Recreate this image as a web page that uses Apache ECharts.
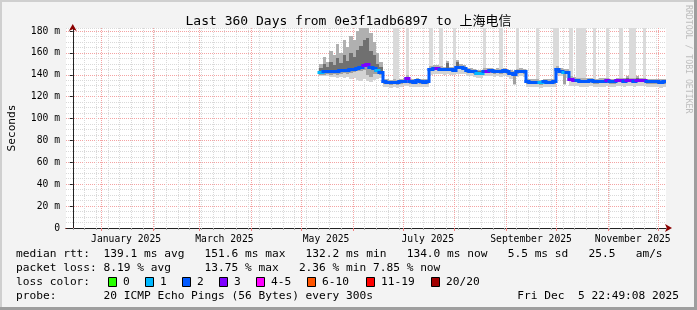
<!DOCTYPE html>
<html><head><meta charset="utf-8">
<script src="https://cdn.jsdelivr.net/npm/echarts@6/dist/echarts.min.js"></script>
<style>html,body{margin:0;padding:0;background:#f3f3f3}#c{width:697px;height:310px}</style>
</head><body><div id="c"></div>
<script>
// x values: days since Sun 2024-12-15 00:00; right edge = Fri 2025-12-05 22:49
const xMin = -4.05, xMax = 355.95;
const yMax = 182.74;
const monthStarts = [17, 48, 76, 107, 137, 168, 198, 229, 260, 290, 321, 351];
const labelDays = [32, 91, 152, 213, 275, 336];
const labelNames = ['January 2025', 'March 2025', 'May 2025', 'July 2025', 'September 2025', 'November 2025'];
const yTicks = [0, 20, 40, 60, 80, 100, 120, 140, 160, 180];
const firstDay = 149, dayStep = 2;

// median rtt (ms), one value per 2 days
const median = [
  142.5,143,143.5,143,143.5,143,144,144.5,144,145,145.5,146,147,149,150,147,146,144,142.5,
  134,133.5,133,133.5,133,134,134.5,137,134,133.5,135,134,133.5,134,
  145.5,146,146.5,145.5,145,145.5,145,144.5,147,147,146,144,143.5,143,142,142,143.5,143.5,144,143,143.5,143,144,143,141.5,141,143,143.5,143,
  134,133.5,133.5,133.5,133,134,133.5,133.5,134,
  145,143.5,142.5,142.5,
  136,135.5,135,134.5,134.5,134.5,135,134,134,134.5,134.5,135,134,134,135,135,134.5,135,135,134.5,135,135,135,134,134,134,134,133.5,134
];
// lost pings out of 20
const loss = [
  1,2,2,2,2,2,2,2,2,2, 2,2,2,3,3,2,2,1,2,2, 2,2,2,2,2,2,3,2,2,2, 2,2,2,2,2,3,2,2,2,2,
  2,2,2,2,2,2,2,1,1,2, 3,2,2,2,2,2,2,2,2,2, 2,2,2,2,2,2,1,2,2,2, 2,2,2,1,2,3,3,2,2,2,
  2,2,2,2,2,2,3,2,2,3, 3,2,3,3,2,3,3,3,2,2, 2,2,2,2
];
// smoke extents (ms)
const smokeLo = [
  139,139,139,138,138,137,138,137,138,136,137,135,134,136,134,133,135,136,137,
  129,128.5,128,128.5,128,129,129.5,130,129,128.5,129,129,128.5,129,
  140,141,141,140.5,140,141,140,139.5,141,141,141,139,138.5,138,137,137,138.5,138.5,139,138,138.5,138,139,138,136.5,131,138,138.5,138,
  129,128.5,128.5,128.5,128,129,128.5,128.5,129,
  140,138.5,131,137.5,
  130,130,129.5,129,129,129,129.5,128.5,128.5,129,129,129.5,128.5,128.5,129.5,129.5,129,129.5,129.5,129,129.5,129.5,129.5,128.5,128.5,128.5,128.5,128,128.5
];
const smokeLoIn = [
  139.5,140,140.5,140,140.5,140,141,141.5,141,142,142.5,143,143,144,140,138,141,141,139.5,
  132,131.5,131,131.5,131,132,132.5,135,132,131.5,133,132,131.5,132,
  143.5,144,144.5,143.5,143,143.5,143,142.5,145,145,144,142,141.5,141,140,140,141.5,141.5,142,141,141.5,141,142,141,139.5,132,141,141.5,141,
  132,131.5,131.5,131.5,131,132,131.5,131.5,132,
  143,141.5,132,140.5,
  134,133.5,133,132.5,132.5,132.5,133,132,132,132.5,132.5,133,132,132,133,133,132.5,133,133,132.5,133,133,133,132,132,132,132,131.5,132
];
const smokeHiIn = [
  146,150,147,152,149,155,151,158,153,160,156,163,166,172,174,162,158,150,147,
  135,134.5,134,134.5,134,135,135.5,138,135,134.5,136,135,134.5,135,
  146.5,147,147.5,146.5,146,151,146,145.5,152,148,147,145,144.5,144,143,143,144.5,144.5,145,144,144.5,144,145,144,142.5,142,144,144.5,144,
  135,134.5,134.5,134.5,134,135,134.5,134.5,135,
  146,144.5,143.5,143.5,
  137,136.5,136,135.5,135.5,135.5,136,135,135,135.5,135.5,136,135,135,136,136,135.5,137,136,135.5,137,136,136,135,135,135,135,134.5,135
];
const smokeHi = [
  150,156,152,162,158,168,160,172,165,175,172,180,183,186,186,178,170,160,152,
  136.5,136,135.5,136,135.5,136.5,137,140,136.5,136,137.5,136.5,136,136.5,
  148,148.5,149,148,147.5,152.5,147.5,147,153.5,149.5,148.5,146.5,146,145.5,144.5,144.5,146,146,146.5,145.5,146,145.5,146.5,145.5,144,143.5,145.5,146,145.5,
  136.5,136,136,136,135.5,136.5,136,136,136.5,
  148,146,145,145,
  138.5,138,137.5,137,137,137,137.5,136.5,136.5,137,137,137.5,136.5,136.5,137.5,137.5,137,138.5,137.5,137,138.5,137.5,137.5,136.5,136.5,136.5,136.5,136,136.5
];
// days where the slowest pings went above the top of the chart
const outlierDays = [193,195,201,215,221,229,247,257,267,279,289,291,299,303,305,307,313,321,329,335,337,343];
const outlierTop = 200;

const lossLabels = ['0', '1', '2', '3', '4-5', '6-10', '11-19', '20/20'];
const lossColors = ['#26ff00', '#00b8ff', '#0059ff', '#7e00ff', '#ff00ff', '#ff5500', '#ff0000', '#a10000'];

const statLines = [
  'median rtt:  139.1 ms avg   151.6 ms max   132.2 ms min   134.0 ms now   5.5 ms sd   25.5   am/s',
  'packet loss: 8.19 % avg     13.75 % max   2.36 % min 7.85 % now'
];
const probeText = 'probe:       20 ICMP Echo Pings (56 Bytes) every 300s';
const dateText = 'Fri Dec  5 22:49:08 2025';
const titleText = 'Last 360 Days from 0e3f1adb6897 to 上海电信';

[smokeLo, smokeLoIn, smokeHiIn, smokeHi, loss].forEach((a, k) => {
  if (a.length !== median.length) throw new Error('array ' + k + ' length ' + a.length + ' != ' + median.length);
});

const MONO = "'DejaVu Sans Mono', 'Noto Sans CJK SC', monospace";
const ARROW = '#8b0000';
const days = median.map((_, i) => firstDay + i * dayStep);
const weekDays = [];
for (let d = 0; d <= xMax; d += 7) weekDays.push(d);

function lossClass(n) { if (n <= 3) return n; if (n <= 5) return 4; if (n <= 10) return 5; if (n <= 19) return 6; return 7; }

const peak = days.map((d, i) => outlierDays.indexOf(d) >= 0 ? outlierTop : smokeHi[i]);
const bandColors = [null, '#d3d3d3', '#a0a0a0', '#707070', '#b0b0b0', '#dadada'];
const smokeData = days.map((d, i) => [d, smokeLo[i], smokeLoIn[i], median[i], smokeHiIn[i], smokeHi[i], peak[i]]);
const medianData = days.map((d, i) => [d, median[i], i + 1 < median.length ? median[i + 1] : median[i], lossClass(loss[i])]);

function colEdges(api, d) {
  return [Math.round(api.coord([d - dayStep / 2, 0])[0]), Math.round(api.coord([d + dayStep / 2, 0])[0])];
}
function renderSmoke(params, api) {
  const d = api.value(0);
  const e = colEdges(api, d);
  const children = [];
  for (let k = 2; k <= 6; k++) {
    const lo = Math.min(api.value(k - 1), yMax), hi = Math.min(api.value(k), yMax);
    if (hi <= lo) continue;
    const yt = Math.round(api.coord([d, hi])[1]), yb = Math.round(api.coord([d, lo])[1]);
    if (yb <= yt) continue;
    children.push({ type: 'rect', shape: { x: e[0], y: yt, width: e[1] - e[0], height: yb - yt },
      style: { fill: bandColors[k - 1] } });
  }
  return { type: 'group', children: children };
}
function renderMedian(params, api) {
  const d = api.value(0);
  const e = colEdges(api, d);
  const y0 = Math.round(api.coord([d, api.value(1)])[1]) + 0.5;
  const y1 = Math.round(api.coord([d, api.value(2)])[1]) + 0.5;
  return { type: 'polyline', shape: { points: [[e[0], y0], [e[1], y0], [e[1], y1]] },
    style: { stroke: lossColors[api.value(3)], lineWidth: 3, fill: null, lineJoin: 'miter', lineCap: 'square' } };
}

const yLineColors = ['#f4a3a3', '#d9d9d9', '#d9d9d9', '#d9d9d9'];

const graphic = [
  { type: 'rect', shape: { x: 0, y: 0, width: 697, height: 2 }, style: { fill: '#cfcfcf' }, silent: true },
  { type: 'rect', shape: { x: 0, y: 0, width: 2, height: 310 }, style: { fill: '#cfcfcf' }, silent: true },
  { type: 'rect', shape: { x: 694, y: 0, width: 3, height: 310 }, style: { fill: '#9e9e9e' }, silent: true },
  { type: 'rect', shape: { x: 0, y: 307, width: 697, height: 3 }, style: { fill: '#9e9e9e' }, silent: true },
  { type: 'text', x: 688, y: 5, rotation: -Math.PI / 2, silent: true,
    style: { text: 'RRDTOOL / TOBI OETIKER', font: "8.2px 'DejaVu Sans Mono'", fill: '#bdbdbd', align: 'left', verticalAlign: 'middle' } }
];
statLines.forEach((t, k) => {
  graphic.push({ type: 'text', x: 16, y: 254 + 14 * k, silent: true,
    style: { text: t, font: "11.2px 'DejaVu Sans Mono'", fill: '#000', verticalAlign: 'middle' } });
});
graphic.push({ type: 'text', x: 16, y: 282, silent: true,
  style: { text: 'loss color:', font: "11.2px 'DejaVu Sans Mono'", fill: '#000', verticalAlign: 'middle' } });
const boxX = [108, 145, 182, 219, 256, 307, 366, 431];
lossLabels.forEach((lab, k) => {
  graphic.push({ type: 'rect', shape: { x: boxX[k] + 0.5, y: 277.5, width: 8, height: 9 }, silent: true,
    style: { fill: lossColors[k], stroke: '#000', lineWidth: 1 } });
  graphic.push({ type: 'text', x: boxX[k] + 15, y: 282, silent: true,
    style: { text: lab, font: "11.2px 'DejaVu Sans Mono'", fill: '#000', verticalAlign: 'middle' } });
});
graphic.push({ type: 'text', x: 16, y: 296, silent: true,
  style: { text: probeText, font: "11.2px 'DejaVu Sans Mono'", fill: '#000', verticalAlign: 'middle' } });
graphic.push({ type: 'text', x: 679, y: 296, silent: true,
  style: { text: dateText, font: "11.2px 'DejaVu Sans Mono'", fill: '#000', align: 'right', verticalAlign: 'middle' } });

const chart = echarts.init(document.getElementById('c'), null, { renderer: 'canvas', width: 697, height: 310 });
chart.setOption({
  animation: false,
  backgroundColor: '#f3f3f3',
  title: { text: titleText, left: 'center', top: 15, padding: 0,
    textStyle: { fontFamily: MONO, fontSize: 13, fontWeight: 'normal', color: '#000' } },
  grid: { left: 66, right: 31, top: 28, bottom: 82, show: true, backgroundColor: '#ffffff', borderWidth: 0,
    containLabel: false, outerBoundsMode: 'none' },
  xAxis: [
    { type: 'value', min: xMin, max: xMax, position: 'bottom',
      axisLine: { show: true, onZero: false, lineStyle: { color: '#222', width: 1 } },
      axisTick: { show: true, customValues: weekDays, length: 2, lineStyle: { color: '#aaaaaa' } },
      axisLabel: { show: false },
      splitLine: { show: true, lineStyle: { color: '#d9d9d9', type: [1, 1], width: 1 } } },
    { type: 'value', min: xMin, max: xMax, position: 'bottom',
      axisLine: { show: true, onZero: false, lineStyle: { color: ARROW, width: 1, type: [0, 10000] },
        symbol: ['none', 'arrow'], symbolSize: [6, 7], symbolOffset: [0, 6] },
      axisTick: { show: true, customValues: monthStarts, length: 3, lineStyle: { color: '#f08080', type: 'solid' } },
      axisLabel: { show: true, customValues: labelDays, margin: 7, fontFamily: MONO, fontSize: 9.7, color: '#000',
        formatter: v => labelNames[labelDays.indexOf(Math.round(v))] || '' },
      splitLine: { show: true, lineStyle: { color: '#f4a3a3', type: [1, 1], width: 1 } } }
  ],
  yAxis: [
    { type: 'value', min: 0, max: yMax, interval: 5, position: 'left',
      axisLine: { show: true, lineStyle: { color: '#222', width: 1 } },
      axisTick: { show: false }, axisLabel: { show: false },
      splitLine: { show: true, lineStyle: { color: yLineColors, type: [1, 1], width: 1 } } },
    { type: 'value', min: 0, max: yMax, position: 'left',
      axisLine: { show: true, lineStyle: { color: ARROW, width: 1, type: [0, 10000] },
        symbol: ['none', 'arrow'], symbolSize: [6, 7], symbolOffset: [0, 4] },
      axisTick: { show: true, customValues: yTicks, length: 3, lineStyle: { color: '#222', type: 'solid' } },
      axisLabel: { customValues: yTicks, margin: 6, fontFamily: MONO, fontSize: 9.7, color: '#000',
        formatter: v => v === 0 ? '0' : Math.round(v) + ' m' },
      splitLine: { show: false },
      name: 'Seconds', nameLocation: 'middle', nameGap: 48, nameRotate: 90,
      nameTextStyle: { fontFamily: MONO, fontSize: 11.2, color: '#000' } }
  ],
  series: [
    { type: 'custom', renderItem: renderSmoke, data: smokeData, encode: { x: 0, y: 3 }, clip: true, silent: true, z: 2 },
    { type: 'custom', renderItem: renderMedian, data: medianData, encode: { x: 0, y: 1 }, clip: true, silent: true, z: 3 }
  ],
  graphic: graphic
});
</script>
</body></html>
